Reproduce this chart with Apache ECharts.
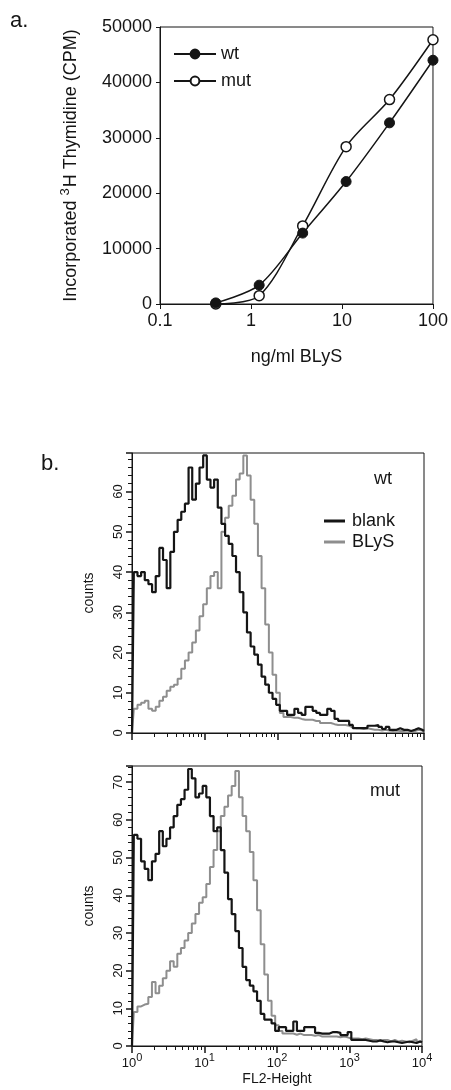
<!DOCTYPE html>
<html>
<head>
<meta charset="utf-8">
<script src="https://cdn.jsdelivr.net/npm/echarts@6/dist/echarts.min.js"></script>
<style>
html,body{margin:0;padding:0;background:#fff;}
#c{width:451px;height:1090px;}
</style>
</head>
<body>
<div id="c"></div>
<script>
// Panel a: proliferation assay
const doses = [0.41, 1.23, 3.7, 11.1, 33.3, 100];
const wtCPM = [200, 3400, 12800, 22100, 32700, 44000];
const mutCPM = [0, 1500, 14100, 28400, 36900, 47700];
const cpmTicks = [0, 10000, 20000, 30000, 40000, 50000];

// Panel b: FL2-Height histograms, x in decades (log10 of FL2-Height)
const fl2Decades = [0, 0.05, 0.1, 0.15, 0.2, 0.25, 0.3, 0.35, 0.4, 0.45, 0.5, 0.55, 0.6, 0.65, 0.7, 0.75, 0.8, 0.85, 0.9, 0.95, 1, 1.05, 1.1, 1.15, 1.2, 1.25, 1.3, 1.35, 1.4, 1.45, 1.5, 1.55, 1.6, 1.65, 1.7, 1.75, 1.8, 1.85, 1.9, 1.95, 2, 2.05, 2.1, 2.15, 2.2, 2.25, 2.3, 2.35, 2.4, 2.45, 2.5, 2.55, 2.6, 2.65, 2.7, 2.75, 2.8, 2.85, 2.9, 2.95, 3, 3.05, 3.1, 3.15, 3.2, 3.25, 3.3, 3.35, 3.4, 3.45, 3.5, 3.55, 3.6, 3.65, 3.7, 3.75, 3.8, 3.85, 3.9, 3.95, 4];
const blankWt = [0,40,39,40,38,37,35,39,46,43, 36,45,50,53,55,57,66,58,62,66, 69,63,61,63,56,52,49,47,44,40, 35,30,25,21.5,19.5,17,14,12,10,8.5, 7,5.5,5.5,4.5,4.5,6,5,4.5,6.5,6.5, 5.5,5,4.5,4.5,6,5.5,3.5,3,3,3, 2,1.2,1.2,1.2,1.2,1.8,1.8,2,1.5,1, 1.5,0.8,0.8,1.2,0.8,0.8,0.5,0.8,1.2,0.8,0.5];
const blysWt = [0,6,7,7.5,8,6,5.5,6.5,8,9, 10.5,11.5,12,13.5,16,18,20,22.5,25.5,29, 32,36,39,40,36,50,53.5,56.5,59,63, 64.5,69,64,58,52,44,36,27,20,14.5, 10,5,4,4,3.8,3.8,3.5,3.3,3.3,3.3, 3,3,2.5,2.5,2.5,2.2,2,2,2,1.8, 1.4,1.2,1.2,1,1.2,1,0.8,0.8,0.6,0.8, 0.6,0.5,0.6,0.5,0.5,0.6,0.4,0.5,0.8,0.6,0.4];
const blankMut = [0,56,55,49,47,44,49,51,57,53, 55,58,61,64,65.5,68,73.5,71,66,67, 69,66,61,57,58,52,46,39,35,30.5, 26,21,17.5,16,14.5,12,8.5,7,7,6, 4,5,5,4,4,6.5,4,4,5,5, 5,3.5,3.3,3.3,3.3,3.7,3.7,3.5,2.9,2.9, 3.7,1.6,1.6,1.6,1.6,1.4,1.2,1.2,1.5,1.2, 1,1.2,1.2,1,0.8,1,1.2,1,0.8,1.2,1];
const blysMut = [0,9,10.5,11,11.2,13,17,14,16,18, 20,22.5,21,24.5,26,28,30,32.5,35,38, 39.5,43,47.5,52,57,61,63.5,66.5,69,73, 66,61,57,51.5,44,36,27,19,12,8, 5.5,4,3.3,3.3,3.3,3,3.3,2.9,2.9,2.9, 2.7,2.9,2.5,2.5,2.5,2.5,2.5,2.3,2.5,2.3, 2,2,2,1.8,2,1.8,1.6,1.6,1.4,1.6, 1.6,1.2,1.6,1.2,1.4,1.2,1,1.4,1.8,1.2,1];
const decadeTicks = [0, 1, 2, 3, 4];

const FONT = '"Liberation Sans", Arial, sans-serif';
const INK = '#151515';
const GRAY = '#8e8e8e';

// minor log tick positions (2..9 within each decade)
const minorLog = [];
for (let n = 0; n < 4; n++) for (let k = 2; k <= 9; k++) minorLog.push(n + Math.log10(k));

const pair = (xs, ys) => xs.map((x, i) => [x, ys[i]]);

const chart = echarts.init(document.getElementById('c'), null, {renderer: 'canvas'});

const boxStyle = {show: true, borderColor: INK, borderWidth: 1, backgroundColor: 'transparent'};

function flAxis(grid, withLabels) {
  return {
    type: 'value', gridIndex: grid, min: decadeTicks[0], max: decadeTicks[decadeTicks.length - 1], interval: 1, position: 'bottom',
    axisLine: {show: true, lineStyle: {color: INK, width: 1}},
    axisTick: {show: true, inside: false, length: 7, lineStyle: {color: INK, width: 1.5}},
    splitLine: {show: false},
    axisLabel: withLabels ? {
      show: true, margin: 6, color: INK, fontFamily: FONT,
      formatter: v => '{b|10}{s|' + v + '}',
      rich: {b: {fontSize: 13, fontFamily: FONT, color: INK, verticalAlign: 'bottom'},
             s: {fontSize: 11, fontFamily: FONT, color: INK, verticalAlign: 'bottom', padding: [0, 0, 7, 0]}}
    } : {show: false},
    name: withLabels ? 'FL2-Height' : '',
    nameLocation: 'middle', nameGap: 26,
    nameTextStyle: {fontSize: 14, fontFamily: FONT, color: INK}
  };
}
function flMinor(grid) {
  return {
    type: 'value', gridIndex: grid, min: 0, max: 4, position: 'bottom',
    axisLine: {show: false},
    axisTick: {show: true, length: 4, customValues: minorLog, lineStyle: {color: INK, width: 1}},
    axisLabel: {show: false}, splitLine: {show: false}
  };
}
function countAxis(grid, max) {
  return {
    type: 'value', gridIndex: grid, min: 0, max: max, interval: 10,
    axisLine: {show: true, lineStyle: {color: INK, width: 1}},
    axisTick: {show: true, length: 6, lineStyle: {color: INK, width: 1.5}},
    minorTick: {show: true, splitNumber: 5, length: 4, lineStyle: {color: INK, width: 1}},
    splitLine: {show: false}, minorSplitLine: {show: false},
    axisLabel: {show: true, rotate: 90, fontSize: 13, fontFamily: FONT, color: INK, margin: 7, showMaxLabel: false},
    name: 'counts', nameLocation: 'middle', nameGap: 36,
    nameTextStyle: {fontSize: 14, fontFamily: FONT, color: INK}
  };
}

const option = {
  animation: false,
  backgroundColor: '#fff',
  textStyle: {fontFamily: FONT},
  grid: [
    Object.assign({left: 160, top: 27, width: 275, height: 277}, boxStyle),
    Object.assign({left: 132, top: 453, width: 292, height: 280}, boxStyle),
    Object.assign({left: 132, top: 766, width: 290, height: 280}, boxStyle)
  ],
  xAxis: [
    {
      type: 'log', gridIndex: 0, logBase: 10, min: 0.1, max: 100,
      axisLine: {show: true, lineStyle: {color: INK}},
      axisTick: {show: true, length: 5, lineStyle: {color: INK}},
      splitLine: {show: false}, minorTick: {show: false},
      axisLabel: {fontSize: 18, fontFamily: FONT, color: INK, margin: 8, formatter: v => String(v)},
      name: 'ng/ml BLyS', nameLocation: 'middle', nameGap: 44,
      nameTextStyle: {fontSize: 18, fontFamily: FONT, color: INK}
    },
    flAxis(1, false), flMinor(1),
    flAxis(2, true), flMinor(2)
  ],
  yAxis: [
    {
      type: 'value', gridIndex: 0, min: cpmTicks[0], max: cpmTicks[cpmTicks.length - 1], interval: 10000,
      axisLine: {show: true, lineStyle: {color: INK}},
      axisTick: {show: true, length: 4, lineStyle: {color: INK}},
      splitLine: {show: false},
      axisLabel: {fontSize: 18, fontFamily: FONT, color: INK, margin: 8, formatter: v => String(v)},
      name: '{n|Incorporated }{s|3}{n|H Thymidine (CPM)}',
      nameLocation: 'middle', nameGap: 80,
      nameTextStyle: {
        fontSize: 18, fontFamily: FONT, color: INK,
        rich: {n: {fontSize: 18, fontFamily: FONT, color: INK, verticalAlign: 'bottom'},
               s: {fontSize: 13, fontFamily: FONT, color: INK, verticalAlign: 'bottom', padding: [0, 1, 8, 0]}}
      }
    },
    countAxis(1, 69.6),
    countAxis(2, 74.3)
  ],
  legend: [
    {
      data: ['wt', 'mut'], orient: 'vertical', left: 168, top: 40,
      itemWidth: 42, itemHeight: 11, itemGap: 9,
      textStyle: {fontSize: 18, fontFamily: FONT, color: INK},
      selectedMode: false
    },
    {
      data: ['blank', 'BLyS'], orient: 'vertical', left: 319, top: 507,
      icon: 'rect', itemWidth: 21, itemHeight: 3, itemGap: 3,
      textStyle: {fontSize: 18, fontFamily: FONT, color: INK, padding: [0, 0, 0, 2]},
      selectedMode: false
    }
  ],
  graphic: [
    {type: 'text', left: 10, top: 10, style: {text: 'a.', fontSize: 22, fontFamily: FONT, fill: INK}},
    {type: 'text', left: 41, top: 453, style: {text: 'b.', fontSize: 22, fontFamily: FONT, fill: INK}},
    {type: 'text', left: 374, top: 470, style: {text: 'wt', fontSize: 18, fontFamily: FONT, fill: INK}},
    {type: 'text', left: 370, top: 782, style: {text: 'mut', fontSize: 18, fontFamily: FONT, fill: INK}}
  ],
  series: [
    {
      name: 'mut', type: 'line', xAxisIndex: 0, yAxisIndex: 0,
      data: pair(doses, mutCPM), smooth: 0.3,
      symbol: 'circle', symbolSize: 10, showSymbol: true,
      lineStyle: {color: INK, width: 1.5},
      itemStyle: {color: '#fff', borderColor: INK, borderWidth: 1.5}
    },
    {
      name: 'wt', type: 'line', xAxisIndex: 0, yAxisIndex: 0,
      data: pair(doses, wtCPM), smooth: 0.3,
      symbol: 'circle', symbolSize: 10, showSymbol: true,
      lineStyle: {color: INK, width: 1.5},
      itemStyle: {color: INK, borderColor: INK, borderWidth: 1}
    },
    {
      name: 'BLyS', type: 'line', xAxisIndex: 1, yAxisIndex: 1, step: 'middle',
      data: pair(fl2Decades, blysWt), symbol: 'none',
      lineStyle: {color: GRAY, width: 2}, itemStyle: {color: GRAY}
    },
    {
      name: 'blank', type: 'line', xAxisIndex: 1, yAxisIndex: 1, step: 'middle',
      data: pair(fl2Decades, blankWt), symbol: 'none',
      lineStyle: {color: INK, width: 2.2}, itemStyle: {color: INK}
    },
    {
      name: 'BLyS', type: 'line', xAxisIndex: 3, yAxisIndex: 2, step: 'middle',
      data: pair(fl2Decades, blysMut), symbol: 'none',
      lineStyle: {color: GRAY, width: 2}, itemStyle: {color: GRAY}
    },
    {
      name: 'blank', type: 'line', xAxisIndex: 3, yAxisIndex: 2, step: 'middle',
      data: pair(fl2Decades, blankMut), symbol: 'none',
      lineStyle: {color: INK, width: 2.2}, itemStyle: {color: INK}
    }
  ]
};
chart.setOption(option);
</script>
</body>
</html>
